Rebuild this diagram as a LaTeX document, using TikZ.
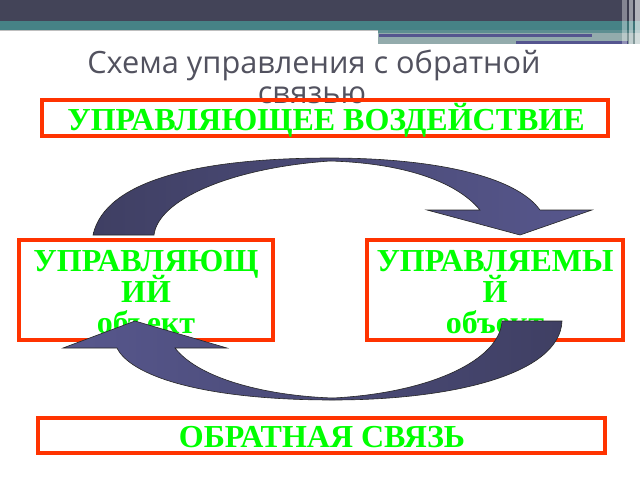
\documentclass[tikz,border=0pt]{standalone}
\usepackage{fontspec}
\setmainfont{Liberation Serif}
\newfontfamily\titlefont{Open Sans}
\definecolor{barDark}{HTML}{434458}
\definecolor{barTeal}{HTML}{468286}
\definecolor{barLight}{HTML}{93ABAC}
\definecolor{lineBlue}{HTML}{55558F}
\definecolor{boxRed}{HTML}{FF3300}
\definecolor{txtGreen}{HTML}{00FF00}
\definecolor{arrDark}{HTML}{3F3F63}
\definecolor{arrLight}{HTML}{57578D}
\definecolor{titleGrey}{HTML}{52525F}
\begin{document}
\begin{tikzpicture}[x=1pt,y=-1pt,
  boxstyle/.style={draw=boxRed, line width=4pt, inner sep=0pt},
  lbl/.style={text=txtGreen, font=\fontsize{32}{32}\selectfont\bfseries, anchor=base, inner sep=0pt},
  ttl/.style={text=titleGrey, font=\titlefont\fontsize{30.7}{30.7}\selectfont, anchor=base, inner sep=0pt},
  arrowshape/.style={draw=black!85, line width=0.6pt}]
\useasboundingbox (0,0) rectangle (640,480);
\fill[white] (0,0) rectangle (640,480);
% top bar
\fill[barDark] (0,0) rectangle (640,21);
\fill[barTeal] (0,21) rectangle (640,30);
\fill[black!25] (0,30) rectangle (378,31);
\fill[barLight] (378,30) rectangle (640,44);
\fill[barTeal!70!barLight] (378,30) rectangle (640,33);
\fill[lineBlue] (379,34) rectangle (592,36.5);
\fill[lineBlue] (516,41) rectangle (628,43.5);
\fill[white,opacity=0.35] (622,0) rectangle (627,44);
\fill[black,opacity=0.12] (627,0) rectangle (629,44);
\fill[white,opacity=0.45] (629,0) rectangle (633,44);
\fill[black,opacity=0.10] (633,0) rectangle (635,44);
\fill[white,opacity=0.6] (635,0) rectangle (640,44);
% title
\node[ttl] (title1) at (314,73) {Схема управления с обратной};
\node[ttl] (title2) at (312,103) {связью};
% boxes
\node[boxstyle, minimum width=566pt, minimum height=36pt] (topbox) at (325,118) {};
\node[boxstyle, minimum width=254pt, minimum height=100pt] (leftbox) at (146,290) {};
\node[boxstyle, minimum width=256pt, minimum height=100pt] (rightbox) at (495,290) {};
\node[boxstyle, minimum width=567pt, minimum height=35pt] (botbox) at (321.5,435.5) {};
% labels
\node[lbl] (toplbl) at (326,130) {УПРАВЛЯЮЩЕЕ ВОЗДЕЙСТВИЕ};
\node[lbl] (leftA) at (146,271) {УПРАВЛЯЮЩ};
\node[lbl] (leftB) at (146,302) {ИЙ};
\node[lbl] (leftC) at (146,333) {объект};
\node[lbl] (rightA) at (495,271) {УПРАВЛЯЕМЫ};
\node[lbl] (rightB) at (495,302) {Й};
\node[lbl] (rightC) at (495,333) {объект};
\node[lbl] (botlbl) at (322,447) {ОБРАТНАЯ СВЯЗЬ};
% arrows
\draw[arrowshape, left color=arrDark, right color=arrLight]
 (93,235) .. controls (105,180) and (200,158) .. (330,158)
 .. controls (430,158) and (515,175) .. (540,210)
 -- (592,210) -- (520,235) -- (427,210) -- (480,210)
 .. controls (455,180) and (400,163) .. (330,161)
 .. controls (230,168) and (158,200) .. (154,235) -- cycle;
\draw[arrowshape, left color=arrLight, right color=arrDark]
 (502,321) -- (562,321)
 .. controls (560,375) and (450,400) .. (333,400)
 .. controls (200,400) and (130,375) .. (117,348)
 -- (63,348) -- (135,321) -- (227,348) -- (175,348)
 .. controls (200,380) and (270,396) .. (333,398)
 .. controls (430,393) and (500,360) .. (502,321) -- cycle;
\end{tikzpicture}
\end{document}
